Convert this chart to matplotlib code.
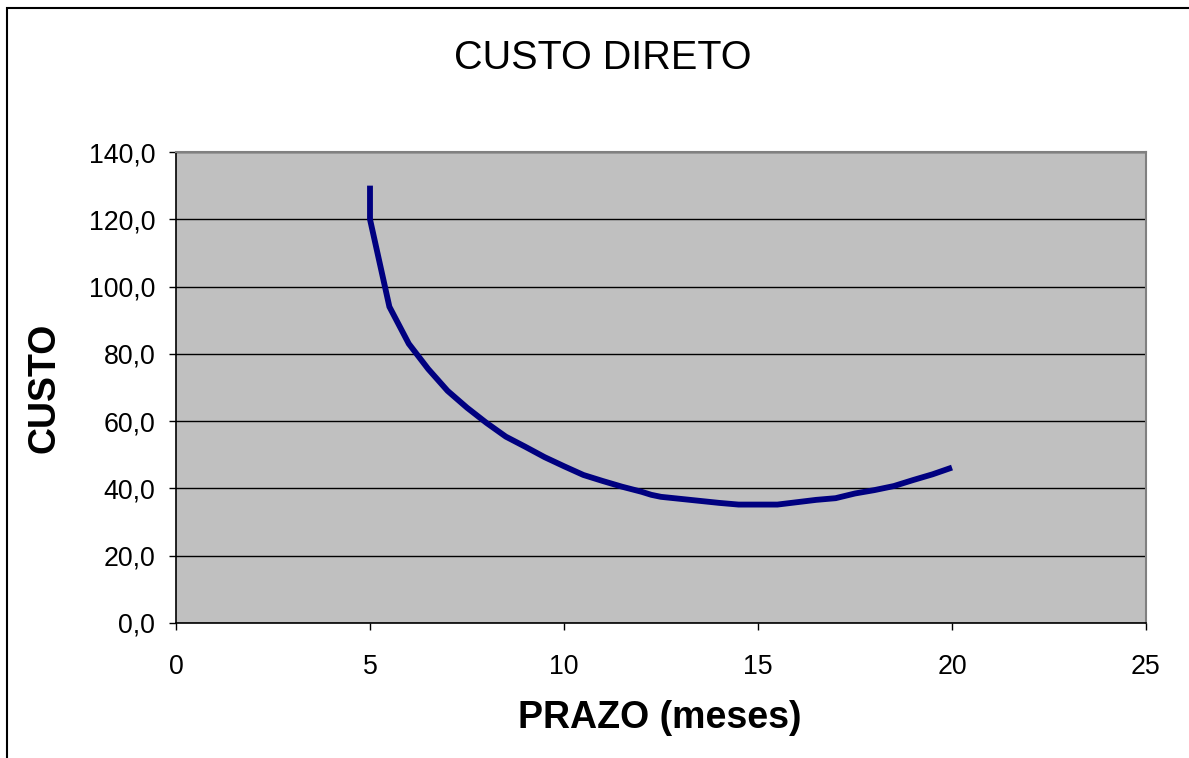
import matplotlib
matplotlib.use("Agg")
import matplotlib.pyplot as plt
from matplotlib.patches import Rectangle

# data
prazo = [5, 5, 5.5, 6, 6.5, 7, 7.5, 8, 8.5, 9, 9.5, 10, 10.5, 11, 11.5,
         12, 12.25, 12.5, 13, 13.5, 14, 14.5, 15, 15.5, 16, 16.5, 17,
         17.5, 18, 18.5, 19, 19.5, 20]
custo = [130, 120, 94, 83, 75.5, 69, 64, 59.5, 55.4, 52.4, 49.3, 46.6,
         44, 42.2, 40.5, 39, 38.1, 37.5, 36.9, 36.3, 35.7, 35.2, 35.2,
         35.2, 35.9, 36.6, 37.1, 38.5, 39.5, 40.7, 42.5, 44.2, 46.2]
x_ticks = [0, 5, 10, 15, 20, 25]
y_ticks = [0, 20, 40, 60, 80, 100, 120, 140]
y_tick_labels = ["0,0", "20,0", "40,0", "60,0", "80,0", "100,0", "120,0", "140,0"]

plt.rcParams["font.family"] = ["Liberation Sans", "DejaVu Sans"]

W, H = 1189, 758
fig = plt.figure(figsize=(W / 100, H / 100), dpi=100)

# outer chart border (cut off at right and bottom like the original)
fig.patches.append(Rectangle((7 / W, -0.1), 1.2, 1 - 8 / H + 0.1,
                             transform=fig.transFigure, fill=False,
                             edgecolor="black", linewidth=1.5))

ax = fig.add_axes([176 / W, (H - 623) / H, 970 / W, 471 / H])
ax.set_facecolor("#c0c0c0")

ax.plot(prazo, custo, color="#000080", linewidth=4.2,
        solid_capstyle="butt", solid_joinstyle="miter", zorder=3)

ax.set_xlim(0, 25)
ax.set_ylim(0, 140)
ax.set_xticks(x_ticks)
ax.set_yticks(y_ticks)
ax.set_yticklabels(y_tick_labels)
ax.grid(axis="y", color="black", linewidth=1.0)
ax.set_axisbelow(True)

ax.tick_params(axis="both", direction="out", length=5, width=1,
               color="black", labelsize=19.3)
ax.tick_params(axis="x", pad=17)
ax.tick_params(axis="y", pad=10)

for side in ["top", "right"]:
    ax.spines[side].set_color("#808080")
    ax.spines[side].set_linewidth(1.5)
for side in ["left", "bottom"]:
    ax.spines[side].set_color("black")
    ax.spines[side].set_linewidth(1.2)

fig.text(603 / W, 1 - 58 / H, "CUSTO DIRETO", fontsize=28.5,
         ha="center", va="center")
fig.text(660 / W, 1 - 718 / H, "PRAZO (meses)", fontsize=27,
         fontweight="bold", ha="center", va="center")
fig.text(45 / W, 1 - 388 / H, "CUSTO", fontsize=27, fontweight="bold",
         rotation=90, ha="center", va="center")

fig.savefig("out.png", dpi=100)
